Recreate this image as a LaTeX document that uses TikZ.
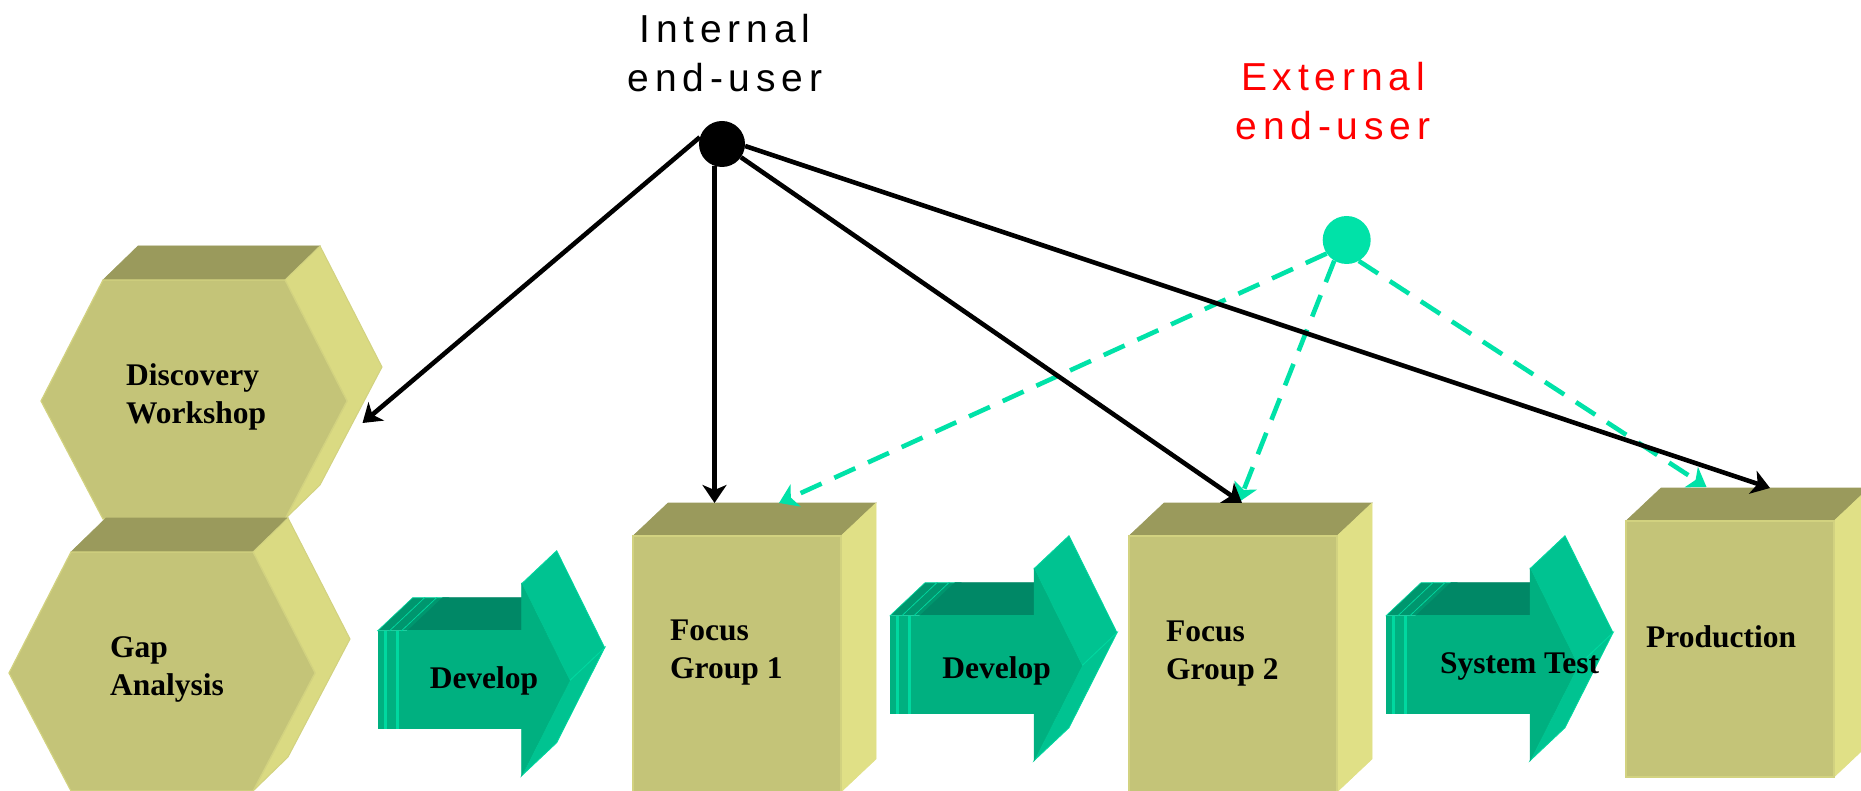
\documentclass[tikz,border=0pt]{standalone}
\usepackage{fontspec}
\setmainfont{Liberation Serif}
\newfontfamily\lblfont[LetterSpace=15]{Liberation Sans}
\usetikzlibrary{arrows.meta}
\definecolor{olvfront}{RGB}{196,196,120}
\definecolor{olvedge}{RGB}{210,210,128}
\definecolor{olvtop}{RGB}{154,154,92}
\definecolor{olvside}{RGB}{224,224,134}
\definecolor{hexside}{RGB}{218,218,130}
\definecolor{grnfront}{RGB}{0,176,128}
\definecolor{grntop}{RGB}{0,136,102}
\definecolor{grnhead}{RGB}{0,195,145}
\definecolor{grnbright}{RGB}{0,216,160}
\definecolor{grnplatetop}{RGB}{0,150,110}
\definecolor{tealc}{RGB}{0,226,168}
\tikzset{
  boxfront/.style={fill=olvfront, draw=olvedge, line width=1.2pt},
  boxtop/.style={fill=olvtop, draw=olvtop, line width=0.6pt},
  boxside/.style={fill=olvside, draw=olvside, line width=0.6pt},
  hexsideface/.style={fill=hexside, draw=olvedge, line width=1pt},
  grnfrontface/.style={fill=grnfront, draw=grnfront, line width=0.5pt},
  grntopface/.style={fill=grntop, draw=grntop, line width=0.5pt},
  grnheadface/.style={fill=grnhead, draw=grnbright, line width=0.8pt},
  platefront/.style={fill=grnfront},
  platebright/.style={fill=grnbright},
  platetopface/.style={fill=grnplatetop, draw=grnbright, line width=0.6pt},
  conn/.style={line width=4.6pt, -{Stealth[length=18pt,width=24pt,inset=5pt]}},
  intconn/.style={conn, draw=black},
  extconn/.style={conn, draw=tealc, dash pattern=on 23pt off 14pt},
  steplabel/.style={font=\fontsize{31.5}{37.8}\selectfont\bfseries, inner sep=0pt, align=left, anchor=base west},
  arrowlabel/.style={font=\fontsize{31.5}{37.8}\selectfont\bfseries, inner sep=0pt, anchor=base},
  userlabel/.style={font=\lblfont\fontsize{39}{49}\selectfont, inner sep=0pt, align=center, anchor=base},
  userdot/.style={circle, inner sep=0pt, minimum size=#1},
}
\newcommand{\olvbox}[2]{%
  \begin{scope}[shift={(#1,#2)}]
    \filldraw[boxtop] (0,0) -- (35,-33) -- (243,-33) -- (208,0) -- cycle;
    \filldraw[boxside] (208,0) -- (243,-33) -- (243,223) -- (208,256) -- cycle;
    \filldraw[boxfront] (0,0) rectangle (208,256);
  \end{scope}}
\newcommand{\olvhex}[2]{%
  \begin{scope}[shift={(#1,#2)}]
    \filldraw[boxtop] (62,-121) -- (97,-155) -- (279,-155) -- (244,-121) -- cycle;
    \filldraw[hexsideface] (244,-121) -- (279,-155) -- (341,-34) -- (279,84) -- (244,118) -- (306,0) -- cycle;
    \filldraw[boxfront] (0,0) -- (62,-121) -- (244,-121) -- (306,0) -- (244,118) -- (62,118) -- cycle;
  \end{scope}}
\newcommand{\grnarrow}[2]{%
  \begin{scope}[shift={(#1,#2)}]
    \foreach \p in {-30,-18,-6}{
      \filldraw[platetopface] (\p,0) -- ++(35,-33) -- ++(12,0) -- ++(-35,33) -- cycle;
      \fill[platefront] (\p,0) rectangle ++(12,98);
      \fill[platebright] ({\p+6},0) rectangle ++(3,98);
    }
    \filldraw[grntopface] (0,0) -- (35,-33) -- (149,-33) -- (114,0) -- cycle;
    \filldraw[grnfrontface] (0,0) rectangle (114,98);
    \filldraw[grnheadface] (114,-47) -- (149,-80) -- (197,17) -- (162,50) -- cycle;
    \filldraw[grnheadface] (162,50) -- (197,17) -- (149,112) -- (114,145) -- cycle;
    \filldraw[grnfrontface] (114,-47) -- (162,50) -- (114,145) -- cycle;
  \end{scope}}
\begin{document}
\begin{tikzpicture}[x=1pt, y=-1pt]
  \useasboundingbox (0,0) rectangle (1861,791);
  \fill[white] (0,0) rectangle (1861,791);
  \clip (0,0) rectangle (1861,791);
  % stages
  \olvhex{41}{401}
  \olvhex{9}{673}
  \olvbox{633}{536}
  \olvbox{1129}{536}
  \olvbox{1626}{521}
  \grnarrow{407.7}{630.7}
  \grnarrow{920}{615.7}
  \grnarrow{1416}{615.7}
  % texts (multi-line nodes: base = last line)
  \node[steplabel] (dw) at (126,423.2) {Discovery\\Workshop};
  \node[steplabel] (ga) at (110,695) {Gap\\Analysis};
  \node[steplabel] (fg1) at (670,678) {Focus\\Group 1};
  \node[steplabel] (fg2) at (1166,679) {Focus\\Group 2};
  \node[steplabel] (prod) at (1646,647) {Production};
  \node[arrowlabel] (dev1) at (484,688) {Develop};
  \node[arrowlabel] (dev2) at (996.7,678) {Develop};
  \node[arrowlabel] (syst) at (1519.5,673.3) {System Test};
  \node[userlabel] (intl) at (725,91.7) {Internal\\end-user};
  \node[userlabel, text=red] (extl) at (1333,140) {External\\end-user};
  % users
  \node[userdot=46pt, fill=black] (int) at (722,144) {};
  \node[userdot=48pt, fill=tealc] (ext) at (1346.7,240) {};
  % connector ends
  \coordinate (dwTip) at (362.5,423);
  \coordinate (fg1Tip) at (714.5,503);
  \coordinate (fg2Tip) at (1242,503);
  \coordinate (prTip) at (1770,488);
  \coordinate (fg1Ext) at (779,503);
  \coordinate (fg2Ext) at (1239,502);
  \coordinate (prExt) at (1706.5,487);
  % external (dashed) connectors
  \draw[extconn] (ext.214) -- (fg1Ext);
  \draw[extconn] (ext.239) -- (fg2Ext);
  \draw[extconn] (ext.300) -- (prExt);
  % internal connectors
  \draw[intconn] (int.163) -- (dwTip);
  \draw[intconn] (int.251) -- (fg1Tip);
  \draw[intconn] (int.-35) -- (fg2Tip);
  \draw[intconn] (int.-5) -- (prTip);
\end{tikzpicture}
\end{document}
